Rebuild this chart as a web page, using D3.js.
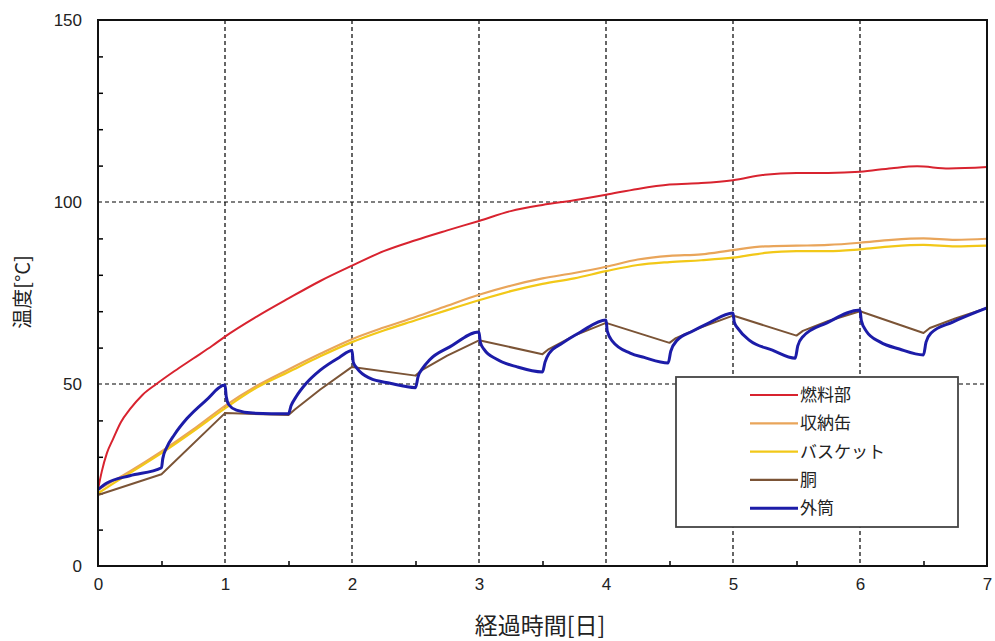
<!DOCTYPE html>
<html><head><meta charset="utf-8">
<script src="https://cdn.jsdelivr.net/npm/d3@7"></script>
<style>
body{margin:0;background:#fff;}
svg{display:block;}
</style></head>
<body>
<svg id="c" width="995" height="641"></svg>
<script>
const days = [0,1,2,3,4,5,6,7];
const yTicks = [0,50,100,150];
const seriesNames = ["燃料部","収納缶","バスケット","胴","外筒"];
const seriesColors = ["#d8232f","#e9a55a","#f2c818","#7b5436","#1c1ca8"];

const fuel = [[0,21],[0.03,26],[0.07,31],[0.12,35],[0.18,39.5],[0.25,43],[0.35,47],[0.46,50],[0.6,53.5],[0.75,57],[0.9,60.5],[1,63],[1.25,68.5],[1.5,73.5],[1.75,78.3],[2,82.5],[2.25,86.5],[2.5,89.5],[2.75,92.2],[3,94.8],[3.25,97.5],[3.5,99.2],[3.75,100.5],[4,102],[4.25,103.6],[4.5,104.8],[4.75,105.2],[5,106],[5.25,107.5],[5.5,108],[5.75,108],[6,108.3],[6.25,109.3],[6.45,109.8],[6.7,109.2],[7,109.6]];
const canister = [[0,21],[0.25,26],[0.5,31.5],[0.75,37.5],[1,44],[1.25,49.5],[1.5,54],[1.75,58.3],[2,62.3],[2.25,65.5],[2.5,68.4],[2.75,71.5],[3,74.5],[3.25,77],[3.5,79],[3.75,80.5],[4,82.2],[4.25,84.2],[4.5,85.2],[4.75,85.6],[5,86.8],[5.25,87.8],[5.5,88],[5.75,88.2],[6,88.8],[6.25,89.6],[6.5,90],[6.75,89.6],[7,89.9]];
const basket = [[0,20],[0.25,25.5],[0.5,31],[0.75,37],[1,43.3],[1.25,49],[1.5,53.3],[1.75,57.6],[2,61.5],[2.25,64.7],[2.5,67.5],[2.75,70.3],[3,73],[3.25,75.5],[3.5,77.5],[3.75,79],[4,81],[4.25,82.7],[4.5,83.5],[4.75,84],[5,84.7],[5.25,86],[5.5,86.5],[5.75,86.5],[6,87],[6.25,87.8],[6.5,88.2],[6.75,87.8],[7,88]];
const trunk = [[0,19.5],[0.5,25.2],[1,42],[1.5,41.5],[1.55,43],[1.75,48.5],[2,54.7],[2.5,52.3],[2.55,53.8],[2.75,57.8],[3,62],[3.5,58.2],[3.55,59.6],[3.75,63.3],[4,66.8],[4.5,61.3],[4.55,62.6],[4.75,65.6],[5,68.8],[5.5,63.3],[5.55,64.6],[5.75,67.3],[6,70],[6.5,64],[6.55,65.4],[6.75,68],[7,70.9]];
const outer = [[0,21],[0.07,22.8],[0.25,24.8],[0.5,27],[0.51,29.5],[0.54,32.5],[0.6,36],[0.7,40.5],[0.85,45.5],[1,49.7],[1.01,46.5],[1.03,44.3],[1.09,42.8],[1.22,42],[1.5,41.8],[1.52,44],[1.56,46.5],[1.64,50.2],[1.75,53.8],[1.9,57.3],[2,59.2],[2.01,56],[2.04,54.3],[2.14,51.6],[2.3,50.2],[2.5,49],[2.52,52],[2.56,54.5],[2.61,56.6],[2.77,60.2],[3,64.3],[3.01,61.5],[3.04,59.5],[3.14,56.8],[3.3,54.7],[3.5,53.3],[3.52,56],[3.55,58.3],[3.66,61.3],[3.8,64.3],[4,67.6],[4.01,64.5],[4.05,61.8],[4.19,58.5],[4.3,57.3],[4.49,55.8],[4.51,59],[4.56,62],[4.68,64.5],[4.8,66.6],[5,69.5],[5.01,67],[5.04,65.2],[5.13,62],[5.31,59.3],[5.49,57.1],[5.51,60.5],[5.55,63],[5.74,66.8],[6,70.3],[6.01,67.5],[6.05,64.5],[6.16,61.5],[6.31,59.6],[6.5,58],[6.52,61.5],[6.56,64],[6.73,67],[7,70.9]];
const allSeries = [fuel, canister, basket, trunk, outer];

const svg = d3.select("#c");
const L=98, R=987, T=20, B=566;
const x = d3.scaleLinear().domain([0,7]).range([L,R]);
const y = d3.scaleLinear().domain([0,150]).range([B,T]);
const numFont = "'Liberation Sans', Arial, sans-serif";
const jpFont = "'Noto Sans CJK JP', 'Noto Sans', sans-serif";

// grid
const grid = svg.append("g").attr("stroke","#000").attr("stroke-width",1.2).attr("stroke-dasharray","4,3");
grid.selectAll("line.v").data(days.filter(d=>d>0&&d<7)).join("line")
  .attr("x1",d=>x(d)).attr("x2",d=>x(d)).attr("y1",T).attr("y2",B);
grid.selectAll("line.h").data([50,100]).join("line")
  .attr("x1",L).attr("x2",R).attr("y1",d=>y(d)).attr("y2",d=>y(d));

// minor ticks (inward)
const minorY = d3.range(10,150,10).filter(v=>v%50!==0);
svg.append("g").attr("transform",`translate(${L},0)`)
  .call(d3.axisLeft(y).tickValues(minorY).tickSize(-5).tickFormat(""))
  .call(g=>g.select(".domain").remove()).selectAll("line").attr("stroke","#000").attr("stroke-width",1.5);
svg.append("g").attr("transform",`translate(0,${B})`)
  .call(d3.axisBottom(x).tickValues(d3.range(0.5,7,1)).tickSize(-5).tickFormat(""))
  .call(g=>g.select(".domain").remove()).selectAll("line").attr("stroke","#000").attr("stroke-width",1.5);

// tick labels
svg.append("g").attr("transform",`translate(${L},0)`)
  .call(d3.axisLeft(y).tickValues(yTicks).tickSize(0).tickPadding(16).tickFormat(d3.format("d")))
  .call(g=>g.select(".domain").remove())
  .selectAll("text").attr("font-family",numFont).attr("font-size",17).attr("fill","#222");
svg.append("g").attr("transform",`translate(0,${B})`)
  .call(d3.axisBottom(x).tickValues(days).tickSize(0).tickPadding(12).tickFormat(d3.format("d")))
  .call(g=>g.select(".domain").remove())
  .selectAll("text").attr("font-family",numFont).attr("font-size",17).attr("fill","#222");

// series
const smooth = d3.line().x(d=>x(d[0])).y(d=>y(d[1])).curve(d3.curveMonotoneX);
const straight = d3.line().x(d=>x(d[0])).y(d=>y(d[1])).curve(d3.curveLinear);
const widths = [2,2.2,2.2,2,3];
allSeries.forEach((s,i)=>{
  svg.append("path").datum(s).attr("d",i===3?straight:smooth).attr("fill","none")
    .attr("stroke",seriesColors[i]).attr("stroke-width",widths[i]).attr("stroke-linejoin","round");
});

// frame
svg.append("rect").attr("x",L).attr("y",T).attr("width",R-L).attr("height",B-T)
  .attr("fill","none").attr("stroke","#111").attr("stroke-width",2);

// legend
const lg = svg.append("g");
lg.append("rect").attr("x",676).attr("y",377).attr("width",282).attr("height",150)
  .attr("fill","#fff").attr("stroke","#444").attr("stroke-width",1.8);
seriesNames.forEach((n,i)=>{
  const yy = 395 + i*28.3;
  lg.append("line").attr("x1",750).attr("x2",798).attr("y1",yy).attr("y2",yy)
    .attr("stroke",seriesColors[i]).attr("stroke-width",i===4?3:2.2);
  lg.append("text").attr("x",800).attr("y",yy).attr("dy","0.35em")
    .attr("font-family",jpFont).attr("font-size",17).attr("fill","#222").text(n);
});

// axis titles
svg.append("text").attr("x",540).attr("y",634).attr("text-anchor","middle")
  .attr("font-family",jpFont).attr("font-size",23).attr("fill","#222").text("経過時間[日]");
svg.append("text").attr("transform","translate(30,292) rotate(-90)").attr("text-anchor","middle")
  .attr("font-family",jpFont).attr("font-size",20).attr("fill","#222").text("温度[°C]");
</script>
</body></html>
